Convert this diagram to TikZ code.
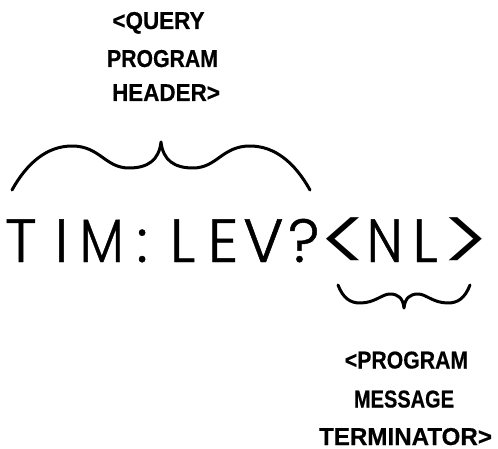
\documentclass[tikz,border=0pt]{standalone}
\usepackage{fontspec}
\usepackage{graphicx}
\newfontfamily\plotfont{Poppins Light}[FakeBold=0.8]
\newfontfamily\plotthin{Poppins Light}
\newfontfamily\lblfont{Liberation Sans}[BoldFeatures={FakeBold=0.4}]
\newcommand\squeeze[2]{\scalebox{#1}[1]{#2}}
% angle brackets stretched to the full cap height of the plotter lettering
\newcommand\tallsym[1]{\raisebox{-11.5pt}{\scalebox{1.6}[1.52]{\plotthin#1}}}
\tikzset{
  glyph/.style={inner sep=0pt, anchor=base, font=\plotfont\fontsize{61}{61}\selectfont},
  caption/.style={inner sep=0pt, anchor=base, font=\lblfont\bfseries\fontsize{24.4}{24.4}\selectfont},
  brace/.style={line width=3pt, line cap=round, line join=round}
}
\begin{document}
\begin{tikzpicture}[x=1pt, y=-1pt]
\useasboundingbox (0,0) rectangle (498,449);

% header caption
\node[caption] (q1) at (158.5,29) {\squeeze{0.92}{<QUERY}};
\node[caption] (q2) at (162.5,67) {\squeeze{0.87}{PROGRAM}};
\node[caption] (q3) at (166,101) {\squeeze{0.92}{HEADER>}};

% upper brace over the header
\draw[brace] (12,190) .. controls (27,163) and (47,146) .. (72,146)
  .. controls (100,146) and (105,168) .. (129,168)
  .. controls (148,168) and (159,160) .. (161,142)
  .. controls (163,160) and (174,168) .. (193,168)
  .. controls (217,168) and (222,146) .. (250,146)
  .. controls (275,146) and (295,163) .. (310,190);

% the message, one character per fixed-pitch cell
\node[glyph] (c0)  at (21+40.4*0,262)  {T};
\node[glyph] (c1)  at (21+40.4*1,262)  {I};
\node[glyph] (c2)  at (21+40.4*2,262)  {\squeeze{0.86}{M}};
\node[glyph] (c3)  at (21+40.4*3,262)  {:};
\node[glyph] (c4)  at (21+40.4*4,262)  {L};
\node[glyph] (c5)  at (21+40.4*5,262)  {E};
\node[glyph] (c6)  at (21+40.4*6,262)  {V};
\node[glyph] (c7)  at (21+40.4*7,262)  {?};
\node[glyph] (c8)  at (21+40.4*8,262)  {\tallsym{<}};
\node[glyph] (c9)  at (21+40.4*9,262)  {\squeeze{0.85}{N}};
\node[glyph] (c10) at (21+40.4*10,262) {L};
\node[glyph] (c11) at (21+40.4*11,262) {\tallsym{>}};

% lower brace under the terminator
\draw[brace] (338,285) .. controls (343,298) and (350,303) .. (360,303)
  .. controls (375,303) and (382,294) .. (390,294)
  .. controls (398,294) and (403,298) .. (404,308)
  .. controls (405,298) and (410,294) .. (418,294)
  .. controls (426,294) and (433,303) .. (448,303)
  .. controls (458,303) and (465,298) .. (470,285);

% terminator caption
\node[caption] (t1) at (406.5,368.5) {\squeeze{0.87}{<PROGRAM}};
\node[caption] (t2) at (404,407.5) {\squeeze{0.82}{MESSAGE}};
\node[caption] (t3) at (405.5,445) {\squeeze{0.99}{TERMINATOR>}};
\end{tikzpicture}
\end{document}
